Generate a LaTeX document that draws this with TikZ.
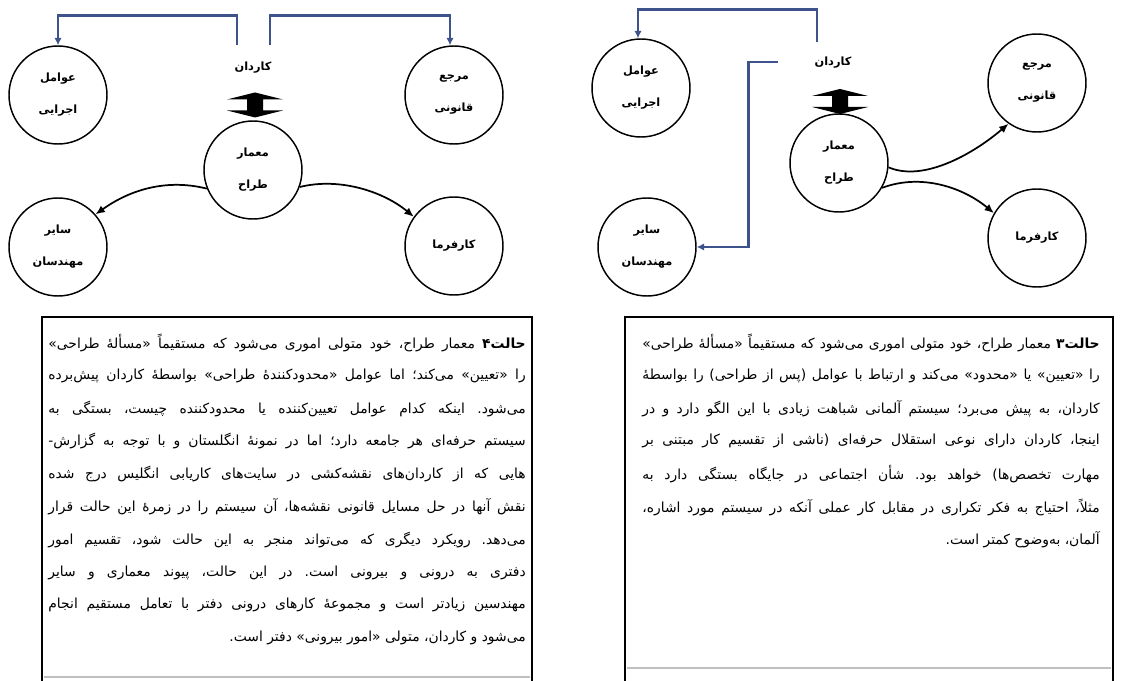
\documentclass[tikz,border=0pt]{standalone}
\usepackage{fontspec}
\newfontfamily\arabicfont[Script=Arabic]{DejaVu Sans}
\TeXXeTstate=1
\frenchspacing
\usetikzlibrary{calc,arrows.meta}
\definecolor{bline}{RGB}{62,82,140}
\begin{document}
\begin{tikzpicture}[x=0.75pt,y=-0.75pt,
  circ/.style={circle,draw,line width=1.1pt,minimum size=73.5pt,inner sep=0pt,align=center,font=\arabicfont\fontsize{8.5}{10}\selectfont\bfseries},
  lbl/.style={font=\arabicfont\fontsize{8.5}{10}\selectfont\bfseries,inner sep=1pt},
  bluelink/.style={draw=bline,line width=2.2pt,-{Latex[length=5.5pt,width=5.5pt]}},
  curvelink/.style={line width=1.3pt,-{Latex[length=7pt,width=6pt]}},
  txt/.style={anchor=east,inner sep=0pt,font=\arabicfont\fontsize{10.4}{12}\selectfont\frenchspacing},
  boxline/.style={line width=1.5pt},
  dblarrow/.style={fill=black}]
\useasboundingbox (0,0) rectangle (1122,681);
\fill[white] (0,0) rectangle (1122,681);

% ---------------- left diagram (state 4) ----------------
\node[circ] (A1) at (58,95) {\beginR عوامل\endR\\[14pt]\beginR اجرایی\endR};
\node[circ] (M1) at (454,95) {\beginR مرجع\endR\\[14pt]\beginR قانونی\endR};
\node[circ] (E1) at (253,170) {\beginR معمار\endR\\[14pt]\beginR طراح\endR};
\node[circ] (S1) at (58,247) {\beginR سایر\endR\\[14pt]\beginR مهندسان\endR};
\node[circ] (K1) at (454,246) {\beginR کارفرما\endR};
\node[lbl] (kd1) at (253,68) {\beginR کاردان\endR};
\coordinate (c1a) at (237,45);
\coordinate (c1b) at (270,45);
\draw[bluelink] (c1a) |- ($(A1.north)+(0,-30)$) -- (A1.north);
\draw[bluelink] (c1b) |- ($(M1.north)+(-4,-30)$) -- ($(M1.north)+(-4,0)$);
\coordinate (d1) at (255,105);
\fill[dblarrow] (d1) ++(0,-12.5) -- ++(28,7) -- ++(-20,0) -- ++(0,11) -- ++(20,0) -- ++(-28,7) -- ++(-28,-7) -- ++(20,0) -- ++(0,-11) -- ++(-20,0) -- cycle;
\draw[curvelink] (E1.202) .. controls +(-40,-10) and +(35,-25) .. (S1.41);
\draw[curvelink] (E1.-20) .. controls +(40,-10) and +(-30,-25) .. (K1.144);

% ---------------- right diagram (state 3) ----------------
\node[circ] (A2) at (641,88) {\beginR عوامل\endR\\[14pt]\beginR اجرایی\endR};
\node[circ] (S2) at (647,247) {\beginR سایر\endR\\[14pt]\beginR مهندسان\endR};
\node[circ] (E2) at (839,163) {\beginR معمار\endR\\[14pt]\beginR طراح\endR};
\node[circ] (M2) at (1037,83) {\beginR مرجع\endR\\[14pt]\beginR قانونی\endR};
\node[circ] (K2) at (1037,238) {\beginR کارفرما\endR};
\node[lbl] (kd2) at (833,63) {\beginR کاردان\endR};
\coordinate (c2a) at (817,42);
\coordinate (c2b) at (778,62);
\draw[bluelink] (c2a) |- ($(A2.north)+(-3,-29)$) -- ($(A2.north)+(-3,0)$);
\draw[bluelink] (c2b) -| ($(S2.east)+(52,0)$) -- (S2.east);
\coordinate (d2) at (840,101.5);
\fill[dblarrow] (d2) ++(0,-12.5) -- ++(28,7) -- ++(-20,0) -- ++(0,11) -- ++(20,0) -- ++(-28,7) -- ++(-28,-7) -- ++(20,0) -- ++(0,-11) -- ++(-20,0) -- cycle;
\draw[curvelink] (E2.-5) .. controls +(35,15) and +(-35,30) .. (M2.235);
\draw[curvelink] (E2.-30) .. controls +(40,-15) and +(-30,-25) .. (K2.150);

% ---------------- text boxes ----------------
\draw[boxline] (42,681) -- (42,317) -- (532,317) -- (532,681);
\draw[black!25,line width=0.8pt] (44,677) -- (530,677);
\draw[boxline] (625,681) -- (625,317) -- (1113,317) -- (1113,681);
\draw[black!25,line width=0.8pt] (627,668) -- (1111,668);

\node[txt] (L1) at (526,343) {\hbox to 358pt{\beginR{\bfseries حالت۴} معمار طراح، خود متولی اموری می‌شود که مستقیماً «مسألهٔ طراحی»\endR}};
\node[txt] (L2) at (526,376) {\hbox to 358pt{\beginR را «تعیین» می‌کند؛ اما عوامل «محدودکنندهٔ طراحی» بواسطهٔ کاردان پیش‌برده\endR}};
\node[txt] (L3) at (526,409) {\hbox to 358pt{\beginR می‌شود. اینکه کدام عوامل تعیین‌کننده یا محدودکننده چیست، بستگی به\endR}};
\node[txt] (L4) at (526,441) {\hbox to 358pt{\beginR سیستم حرفه‌ای هر جامعه دارد؛ اما در نمونهٔ انگلستان و با توجه به گزارش-\endR}};
\node[txt] (L5) at (526,474) {\hbox to 358pt{\beginR هایی که از کاردان‌های نقشه‌کشی در سایت‌های کاریابی انگلیس درج شده\endR}};
\node[txt] (L6) at (526,507) {\hbox to 358pt{\beginR نقش آنها در حل مسایل قانونی نقشه‌ها، آن سیستم را در زمرهٔ این حالت قرار\endR}};
\node[txt] (L7) at (526,540) {\hbox to 358pt{\beginR می‌دهد. رویکرد دیگری که می‌تواند منجر به این حالت شود، تقسیم امور\endR}};
\node[txt] (L8) at (526,573) {\hbox to 358pt{\beginR دفتری به درونی و بیرونی است. در این حالت، پیوند معماری و سایر\endR}};
\node[txt] (L9) at (526,605) {\hbox to 358pt{\beginR مهندسین زیادتر است و مجموعهٔ کارهای درونی دفتر با تعامل مستقیم انجام\endR}};
\node[txt] (L10) at (526,638) {\beginR می‌شود و کاردان، متولی «امور بیرونی» دفتر است.\endR};

\node[txt] (R1) at (1100,343) {\hbox to 343pt{\beginR{\bfseries حالت۳} معمار طراح، خود متولی اموری می‌شود که مستقیماً «مسألهٔ طراحی»\endR}};
\node[txt] (R2) at (1100,376) {\hbox to 343pt{\beginR را «تعیین» یا «محدود» می‌کند و ارتباط با عوامل (پس از طراحی) را بواسطهٔ\endR}};
\node[txt] (R3) at (1100,409) {\hbox to 343pt{\beginR کاردان، به پیش می‌برد؛ سیستم آلمانی شباهت زیادی با این الگو دارد و در\endR}};
\node[txt] (R4) at (1100,441) {\hbox to 343pt{\beginR اینجا، کاردان دارای نوعی استقلال حرفه‌ای (ناشی از تقسیم کار مبتنی بر\endR}};
\node[txt] (R5) at (1100,474) {\hbox to 343pt{\beginR مهارت تخصص‌ها) خواهد بود. شأن اجتماعی در جایگاه بستگی دارد به\endR}};
\node[txt] (R6) at (1100,507) {\hbox to 343pt{\beginR مثلاً، احتیاج به فکر تکراری در مقابل کار عملی آنکه در سیستم مورد اشاره،\endR}};
\node[txt] (R7) at (1100,540) {\beginR آلمان، به‌وضوح کمتر است.\endR};
\end{tikzpicture}
\end{document}
